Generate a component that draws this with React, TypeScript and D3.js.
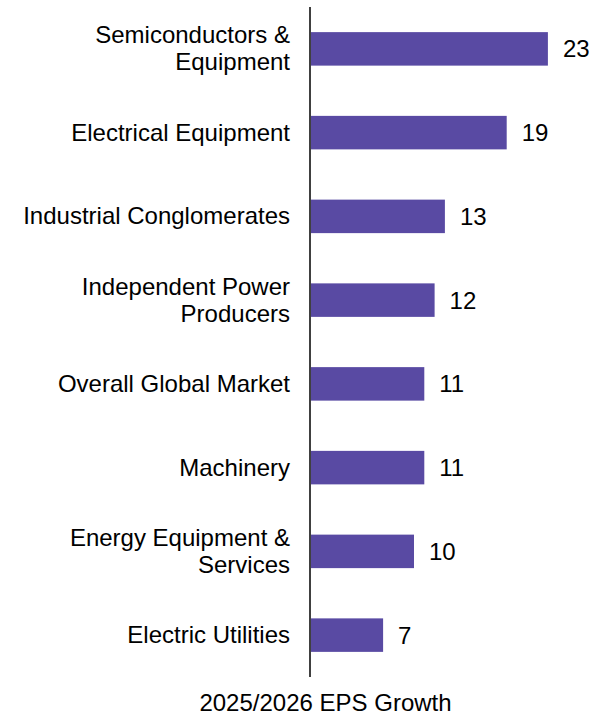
import React from "react";
import * as d3 from "d3";

const categories: string[][] = [
  ["Semiconductors &", "Equipment"],
  ["Electrical Equipment"],
  ["Industrial Conglomerates"],
  ["Independent Power", "Producers"],
  ["Overall Global Market"],
  ["Machinery"],
  ["Energy Equipment &", "Services"],
  ["Electric Utilities"],
];
const values: number[] = [23, 19, 13, 12, 11, 11, 10, 7];
const axisTitle = "2025/2026 EPS Growth";

const W = 608;
const H = 716;
const axisX = 311;
const FONT = "'Liberation Sans', Arial, sans-serif";
const FS = 24;

export default function App() {
  const keys = categories.map((_, i) => String(i));
  const y = d3.scaleBand<string>().domain(keys).range([7, 677]).paddingInner(0.6).paddingOuter(0.3);
  const x = d3.scaleLinear().domain([0, 28]).range([axisX, axisX + 28 * 10.3]);
  const lineH = 27;
  return (
    <svg width={W} height={H} style={{ position: "absolute", left: 0, top: 0 }} fontFamily={FONT}>
      {values.map((v, i) => {
        const yc = (y(String(i)) as number) + y.bandwidth() / 2;
        const lines = categories[i];
        return (
          <g key={i}>
            <rect x={x(0)} y={y(String(i))} width={x(v) - x(0)} height={y.bandwidth()} fill="#594AA3" />
            <text x={x(v) + 15} y={yc} dy="0.35em" fontSize={FS} fill="#000">
              {v}
            </text>
            {lines.map((l, j) => (
              <text
                key={j}
                x={290}
                y={yc - 0.5 + (j - (lines.length - 1) / 2) * lineH}
                dy="0.35em"
                fontSize={FS}
                textAnchor="end"
                fill="#000"
              >
                {l}
              </text>
            ))}
          </g>
        );
      })}
      <line x1={axisX - 1} x2={axisX - 1} y1={7} y2={677} stroke="#000" strokeWidth={1.5} />
      <text x={325.5} y={702.5} dy="0.35em" fontSize={FS} textAnchor="middle" fill="#000">
        {axisTitle}
      </text>
    </svg>
  );
}
